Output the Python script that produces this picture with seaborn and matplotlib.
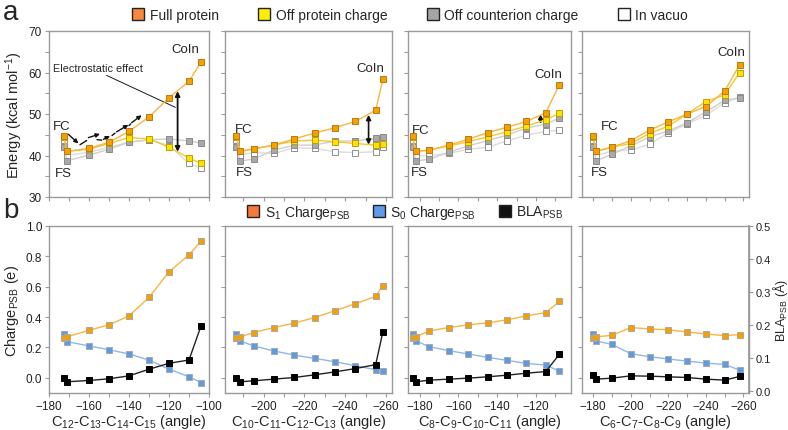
import matplotlib
matplotlib.use('Agg')
import matplotlib.pyplot as plt
import seaborn as sns
from matplotlib.lines import Line2D
from matplotlib.ticker import MultipleLocator, NullFormatter

sns.set_theme(style='white')
plt.rcParams['font.family'] = ['Liberation Sans', 'DejaVu Sans']
plt.rcParams['mathtext.fontset'] = 'custom'
plt.rcParams['mathtext.rm'] = 'Liberation Sans'
plt.rcParams['mathtext.it'] = 'Liberation Sans:italic'
plt.rcParams['mathtext.bf'] = 'Liberation Sans:bold'

# ---------------- data ----------------
x1 = [-172.5, -171, -160, -150, -140, -130, -120, -110, -104]
x2 = [-186.5, -188.5, -195, -205, -215, -225, -235, -245, -255, -258.5]
x3 = [-183.5, -182, -175, -165, -155, -145, -135, -125, -115, -108]
x4 = [-180, -181.5, -190, -200, -210, -220, -230, -240, -250, -258]

full1 = [44.6, 41.0, 41.7, 43.2, 45.8, 49.3, 53.9, 57.9, 62.5]
offprot1 = [44.4, 41.0, 41.5, 42.9, 44.3, 44.0, 42.0, 39.4, 38.1]
offcnt1 = [42.1, 38.7, 40.1, 41.5, 43.2, 43.8, 44.0, 43.5, 43.0]
vacuo1 = [43.8, 40.0, 40.8, 42.0, 43.2, 43.8, 42.4, 38.1, 37.0]

full2 = [44.6, 41.0, 41.6, 42.5, 44.0, 45.4, 46.7, 48.2, 50.9, 58.4]
offprot2 = [44.4, 41.0, 41.6, 42.5, 43.5, 43.7, 43.3, 42.9, 42.5, 42.8]
offcnt2 = [42.1, 38.7, 39.1, 41.3, 42.5, 42.5, 43.5, 43.5, 44.1, 44.5]
vacuo2 = [43.8, 40.1, 40.7, 40.5, 41.9, 41.7, 40.9, 40.7, 40.9, 42.0]

full3 = [44.6, 41.0, 41.3, 42.5, 43.9, 45.5, 46.8, 48.2, 50.3, 57.1]
offprot3 = [44.4, 41.0, 41.3, 42.3, 43.3, 44.5, 45.7, 47.1, 48.6, 50.2]
offcnt3 = [42.1, 38.7, 39.1, 40.8, 42.3, 43.6, 44.9, 46.6, 47.6, 49.0]
vacuo3 = [43.8, 39.9, 40.0, 40.5, 41.5, 42.0, 43.5, 44.9, 45.8, 46.1]

full4 = [44.6, 41.0, 42.0, 43.6, 46.1, 48.1, 50.0, 51.8, 55.5, 61.9]
offprot4 = [44.4, 41.0, 42.0, 42.9, 45.3, 47.1, 50.0, 53.0, 54.6, 60.0]
offcnt4 = [42.1, 38.7, 40.3, 42.3, 44.5, 45.9, 47.9, 50.5, 53.3, 53.9]
vacuo4 = [43.8, 40.0, 41.1, 41.3, 42.7, 45.5, 47.6, 49.7, 52.7, 54.0]

s1_1 = [0.26, 0.27, 0.313, 0.349, 0.408, 0.53, 0.698, 0.81, 0.90]
s0_1 = [0.289, 0.238, 0.21, 0.185, 0.157, 0.117, 0.057, 0.007, -0.031]
bla_1 = [0.038, 0.028, 0.032, 0.037, 0.046, 0.066, 0.084, 0.094, 0.197]

s1_2 = [0.26, 0.27, 0.298, 0.331, 0.36, 0.397, 0.442, 0.488, 0.536, 0.607]
s0_2 = [0.289, 0.243, 0.21, 0.177, 0.15, 0.128, 0.106, 0.08, 0.053, 0.044]
bla_2 = [0.038, 0.028, 0.031, 0.036, 0.041, 0.049, 0.058, 0.068, 0.080, 0.179]

s1_3 = [0.26, 0.27, 0.309, 0.331, 0.349, 0.362, 0.382, 0.408, 0.43, 0.503]
s0_3 = [0.289, 0.243, 0.205, 0.179, 0.157, 0.135, 0.115, 0.095, 0.084, 0.044]
bla_3 = [0.038, 0.028, 0.033, 0.036, 0.039, 0.043, 0.048, 0.054, 0.059, 0.111]

s1_4 = [0.26, 0.27, 0.28, 0.331, 0.322, 0.316, 0.302, 0.289, 0.278, 0.285]
s0_4 = [0.289, 0.243, 0.22, 0.159, 0.139, 0.124, 0.11, 0.097, 0.088, 0.051]
bla_4 = [0.048, 0.036, 0.039, 0.046, 0.045, 0.043, 0.041, 0.036, 0.033, 0.044]

top_labels = ['Full protein', 'Off protein charge', 'Off counterion charge', 'In vacuo']
bot_labels = ['S$_1$ Charge$_{\\mathrm{PSB}}$', 'S$_0$ Charge$_{\\mathrm{PSB}}$', 'BLA$_{\\mathrm{PSB}}$']
xlabels = ['C$_{12}$-C$_{13}$-C$_{14}$-C$_{15}$ (angle)',
           'C$_{10}$-C$_{11}$-C$_{12}$-C$_{13}$ (angle)',
           'C$_{8}$-C$_{9}$-C$_{10}$-C$_{11}$ (angle)',
           'C$_{6}$-C$_{7}$-C$_{8}$-C$_{9}$ (angle)']
xlims = [(-180, -100), (-181, -263), (-186, -102), (-174, -263)]

xs = [x1, x2, x3, x4]
tops = [(full1, offprot1, offcnt1, vacuo1), (full2, offprot2, offcnt2, vacuo2),
        (full3, offprot3, offcnt3, vacuo3), (full4, offprot4, offcnt4, vacuo4)]
bots = [(s1_1, s0_1, bla_1), (s1_2, s0_2, bla_2), (s1_3, s0_3, bla_3), (s1_4, s0_4, bla_4)]

# ---------------- style ----------------
C_FULL = dict(face='#F5A000', edge='#B87A10', line='#F8B540')
C_OFFP = dict(face='#FFE000', edge='#B9A200', line='#F5C830')
C_OFFC = dict(face='#A9A9A9', edge='#8A8A8A', line='#CFCFCF')
C_VAC = dict(face='#FFFFFF', edge='#8E8E8E', line='#DCDCDC')
C_S1 = dict(face='#F5A000', edge='#A8A8A8', line='#F8B540')
C_S0 = dict(face='#5E9BE3', edge='#A8A8A8', line='#8DB8EC')
C_BLA = dict(face='#000000', edge='#000000', line='#222222')
SPINE = '#9A9A9A'

W, H = 788, 431
fig = plt.figure(figsize=(W / 100, H / 100), dpi=100)
cols = [(49, 209), (225, 392), (408, 571), (582, 749)]
top_ax = [fig.add_axes([l / W, 1 - 198 / H, (r - l) / W, 166 / H]) for l, r in cols]
bot_ax = [fig.add_axes([l / W, 1 - 394 / H, (r - l) / W, 167 / H]) for l, r in cols]


def draw(ax, x, y, c, z):
    sns.lineplot(x=x, y=y, ax=ax, sort=False, estimator=None, color=c['line'], lw=1.0,
                 marker='s', markersize=5, markerfacecolor=c['face'],
                 markeredgecolor=c['edge'], markeredgewidth=0.7, zorder=z)


def style(ax):
    for s in ax.spines.values():
        s.set_color(SPINE)
        s.set_linewidth(1.0)
    ax.tick_params(which='both', direction='out', length=3, width=0.8, color=SPINE,
                   labelsize=8.5, labelcolor='#222222', pad=2,
                   bottom=True, left=True, top=False, right=False)
    ax.grid(False)


for i in range(4):
    ax = top_ax[i]
    f, op, oc, v = tops[i]
    draw(ax, xs[i], v, C_VAC, 2)
    draw(ax, xs[i], oc, C_OFFC, 3)
    draw(ax, xs[i], op, C_OFFP, 4)
    draw(ax, xs[i], f, C_FULL, 5)
    ax.set_xlim(*xlims[i])
    ax.set_ylim(30, 70)
    ax.xaxis.set_major_locator(MultipleLocator(10))
    ax.xaxis.set_major_formatter(NullFormatter())
    ax.yaxis.set_major_locator(MultipleLocator(10))
    ax.yaxis.set_minor_locator(MultipleLocator(5))
    style(ax)
    if i > 0:
        ax.yaxis.set_major_formatter(NullFormatter())
    ax.set_xlabel('')
    ax.set_ylabel('')

    axb = bot_ax[i]
    s1, s0, bla = bots[i]
    draw(axb, xs[i], s0, C_S0, 3)
    draw(axb, xs[i], s1, C_S1, 4)
    axb.set_xlim(*xlims[i])
    axb.set_ylim(-0.1, 1.0)
    axb.xaxis.set_major_locator(MultipleLocator(20))
    axb.xaxis.set_minor_locator(MultipleLocator(10))
    axb.yaxis.set_major_locator(MultipleLocator(0.2))
    axb.yaxis.set_major_formatter(plt.FuncFormatter(lambda v, p: f'{v:.1f}'))
    style(axb)
    if i > 0:
        axb.yaxis.set_major_formatter(NullFormatter())
    axb.set_xlabel(xlabels[i], fontsize=10.5, labelpad=0)
    axb.set_ylabel('')
    tw = axb.twinx()
    draw(tw, xs[i], bla, C_BLA, 5)
    tw.set_ylim(-0.006, 0.5)
    tw.set_ylabel('')
    for s in tw.spines.values():
        s.set_visible(False)
    if i == 3:
        tw.spines['right'].set_visible(True)
        tw.spines['right'].set_color(SPINE)
        tw.yaxis.set_major_locator(MultipleLocator(0.1))
        tw.yaxis.set_major_formatter(plt.FuncFormatter(lambda v, p: f'{v:.1f}'))
        tw.tick_params(axis='y', right=True, direction='out', length=3, width=0.8,
                       color=SPINE, labelsize=8, labelcolor='#222222', pad=1.5)
        tw.set_ylabel('BLA$_{\\mathrm{PSB}}$ (Å)', fontsize=9, rotation=90,
                      va='center', ha='center')
        tw.yaxis.set_label_coords((780 - 582) / 167, 0.5)
    else:
        tw.set_yticks([])
    tw.grid(False)

top_ax[0].set_ylabel('Energy (kcal mol$^{-1}$)', fontsize=10.5, labelpad=3)
bot_ax[0].set_ylabel('Charge$_{\\mathrm{PSB}}$ (e)', fontsize=10.5, labelpad=3)

# ---------------- annotations ----------------
FS_ = 9.5
a = top_ax[0]
a.text(-173.8, 47.1, 'FC', fontsize=FS_, ha='center', va='center')
a.text(-172.6, 35.9, 'FS', fontsize=FS_, ha='center', va='center')
a.text(-111.6, 65.6, 'CoIn', fontsize=FS_, ha='center', va='center')
a.text(-178, 61.0, 'Electrostatic effect', fontsize=7.8, ha='left', va='center')
a.plot([-151.2, -116.8], [59.3, 51.6], color='k', lw=0.7)
a.annotate('', xy=(-115.7, 55.5), xytext=(-115.7, 40.9),
           arrowprops=dict(arrowstyle='<|-|>', color='#111111', lw=1.3, mutation_scale=7,
                           shrinkA=0, shrinkB=0))
arrows = [((-170.3, 45.1), (-165.3, 42.9)),
          ((-160.3, 44.3), (-154.5, 45.2)),
          ((-152.8, 43.9), (-149.5, 44.7)),
          ((-146.2, 45.7), (-140.3, 47.4)),
          ((-138.7, 47.9), (-133.7, 49.7))]
for (p0, p1) in arrows:
    a.annotate('', xy=p1, xytext=p0,
               arrowprops=dict(arrowstyle='-|>', color='#111111', lw=1.0, mutation_scale=6,
                               shrinkA=0, shrinkB=0))
dashes = [((-164.5, 42.6), (-161.2, 43.6)), ((-156.0, 43.8), (-153.6, 43.7)),
          ((-148.5, 44.8), (-147.0, 45.4)), ((-140.0, 47.2), (-139.2, 47.6))]
for (p0, p1) in dashes:
    a.plot([p0[0], p1[0]], [p0[1], p1[1]], color='#111111', lw=1.0)

a = top_ax[1]
a.text(-190.3, 46.5, 'FC', fontsize=FS_, ha='center', va='center')
a.text(-190.5, 36.0, 'FS', fontsize=FS_, ha='center', va='center')
a.text(-252.3, 61.2, 'CoIn', fontsize=FS_, ha='center', va='center')
a.annotate('', xy=(-251.5, 49.8), xytext=(-251.5, 42.6),
           arrowprops=dict(arrowstyle='<|-|>', color='#111111', lw=1.2, mutation_scale=7,
                           shrinkA=0, shrinkB=0))

a = top_ax[2]
a.text(-179.3, 46.1, 'FC', fontsize=FS_, ha='center', va='center')
a.text(-180.3, 36.0, 'FS', fontsize=FS_, ha='center', va='center')
a.text(-113.6, 59.6, 'CoIn', fontsize=FS_, ha='center', va='center')
a.annotate('', xy=(-117.7, 49.9), xytext=(-117.7, 47.6),
           arrowprops=dict(arrowstyle='<|-|>', color='#111111', lw=1.0, mutation_scale=6,
                           shrinkA=0, shrinkB=0))

a = top_ax[3]
a.text(-188.5, 47.1, 'FC', fontsize=FS_, ha='center', va='center')
a.text(-183.2, 36.0, 'FS', fontsize=FS_, ha='center', va='center')
a.text(-253.4, 65.0, 'CoIn', fontsize=FS_, ha='center', va='center')

# ---------------- legends ----------------
def sq(c):
    return Line2D([], [], ls='none', marker='s', ms=8, mfc=c, mec='#222222', mew=1.0)

fig.legend([sq('#F6893B'), sq('#FFEF00'), sq('#A5A5A5'), sq('#FFFFFF')], top_labels,
           loc='center', bbox_to_anchor=(0.52, 1 - 16 / H), ncol=4, frameon=False,
           fontsize=10, handletextpad=0.3, columnspacing=2.8, handlelength=1.0,
           borderaxespad=0, borderpad=0)
fig.legend([sq('#F47A3A'), sq('#5E9BE8'), sq('#111111')], bot_labels,
           loc='center', bbox_to_anchor=(0.514, 1 - 213 / H), ncol=3, frameon=False,
           fontsize=10, handletextpad=0.3, columnspacing=1.6, handlelength=1.0,
           borderaxespad=0, borderpad=0)

fig.text(0.004, 1 - 20 / H, 'a', fontsize=20, ha='left', va='baseline')
fig.text(0.004, 1 - 218 / H, 'b', fontsize=20, ha='left', va='baseline')

fig.savefig('out.png', dpi=100)
